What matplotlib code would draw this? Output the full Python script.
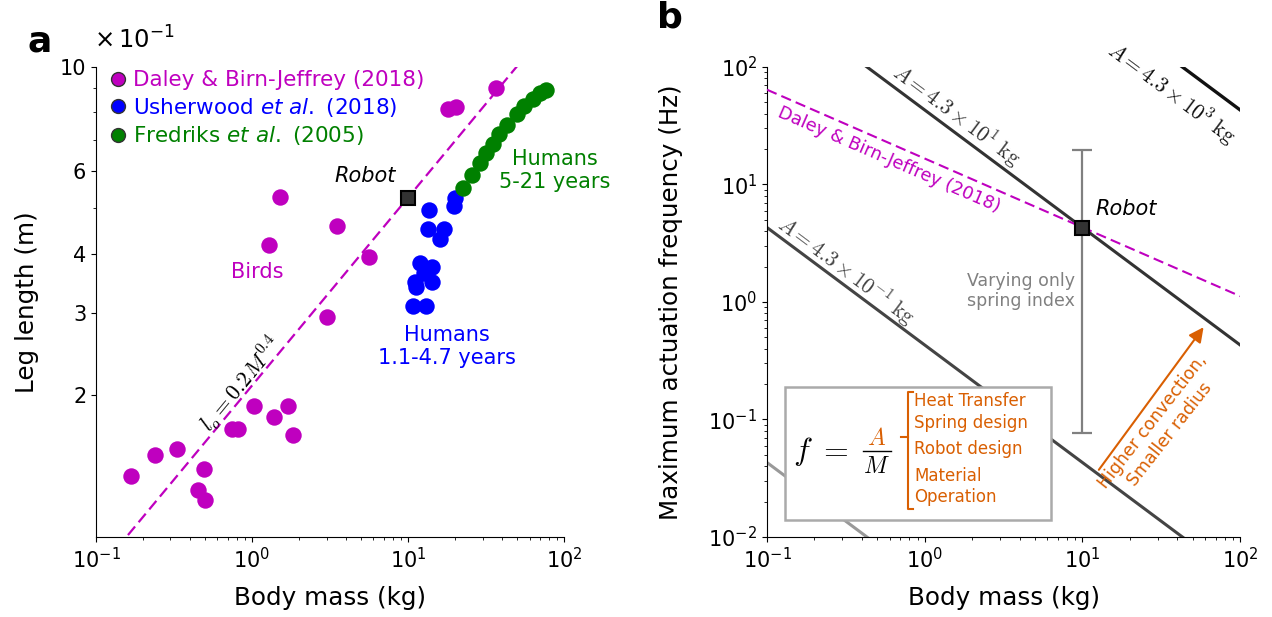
import numpy as np
import matplotlib.pyplot as plt
from matplotlib.lines import Line2D
from matplotlib.patches import Rectangle
from matplotlib.ticker import FixedLocator, FixedFormatter, NullFormatter

plt.rcParams['font.family'] = 'DejaVu Sans'
plt.rcParams['font.size'] = 14
plt.rcParams['axes.labelsize'] = 17.7
plt.rcParams['xtick.labelsize'] = 15
plt.rcParams['ytick.labelsize'] = 15

# ---- panel a data: body mass (kg) vs leg length (m) ----
bird_mass = [36.6, 18.0, 20.2, 1.50, 3.51, 1.29, 5.65, 3.03, 1.03, 1.71, 1.38, 1.82,
             0.741, 0.816, 0.329, 0.237, 0.167, 0.494, 0.453, 0.500]
bird_len = [0.902, 0.812, 0.822, 0.530, 0.458, 0.419, 0.394, 0.294, 0.1896, 0.1896, 0.1796, 0.1647,
            0.1697, 0.1697, 0.1535, 0.1496, 0.1345, 0.1396, 0.1257, 0.1197]

child_mass = [13.7, 20.0, 19.8, 13.5, 17.1, 16.0, 11.9, 14.3, 12.7, 11.0, 14.3, 11.2, 10.8, 13.0]
child_len = [0.496, 0.525, 0.506, 0.451, 0.451, 0.431, 0.383, 0.375, 0.364, 0.348, 0.348, 0.341, 0.310, 0.310]

youth_mass = [22.6, 25.6, 28.9, 31.6, 34.9, 38.5, 43.3, 49.8, 55.4, 63.0, 70.2, 76.7]
youth_len = [0.553, 0.590, 0.625, 0.657, 0.686, 0.719, 0.752, 0.793, 0.827, 0.855, 0.879, 0.893]

robot_mass = 10.0
robot_len = 0.526
fit_coef, fit_exp = 0.21, 0.4

# ---- panel b data ----
A_values = [4.3e3, 4.3e1, 4.3e-1, 4.3e-3]
A_labels = [r'$A = 4.3\times10^{3}\ \mathrm{kg}$', r'$A = 4.3\times10^{1}\ \mathrm{kg}$',
            r'$A = 4.3\times10^{-1}\ \mathrm{kg}$', None]
A_colors = ['#111111', '#333333', '#444444', '#999999']
daley_mass = [0.1, 100.0]
daley_freq = [64.0, 1.12]
robot_freq = 4.3
robot_freq_range = [0.077, 19.5]
factors = ['Heat Transfer', 'Spring design', 'Robot design', 'Material', 'Operation']

orange = '#d95f02'

fig = plt.figure(figsize=(12.72, 6.17), dpi=100)
ax1 = fig.add_axes([0.0755, 0.1297, 0.368, 0.7618])
ax2 = fig.add_axes([0.603, 0.1297, 0.372, 0.7618])

# ================= panel a =================
ax1.set_xscale('log')
ax1.set_yscale('log')
ax1.scatter(bird_mass, bird_len, s=140, c='m', lw=0, zorder=3)
ax1.scatter(child_mass, child_len, s=140, c='b', lw=0, zorder=3)
ax1.scatter(youth_mass, youth_len, s=140, c='g', lw=0, zorder=3)

mfit = np.array([0.1, 100.0])
ax1.plot(mfit, fit_coef * mfit ** fit_exp, '--', color='m', lw=1.6, dashes=(5, 2.5), zorder=2)
ax1.plot([robot_mass], [robot_len], 's', ms=10, mfc='#333333', mec='black', mew=1.5, zorder=5)

ax1.set_xlim(0.1, 100)
ax1.set_ylim(0.1, 1.0)
ax1.yaxis.set_major_locator(FixedLocator([0.2, 0.3, 0.4, 0.6, 1.0]))
ax1.yaxis.set_major_formatter(FixedFormatter(['2', '3', '4', '6', '10']))
ax1.yaxis.set_minor_locator(FixedLocator([0.5, 0.7, 0.8, 0.9]))
ax1.yaxis.set_minor_formatter(NullFormatter())
ax1.text(-0.005, 1.058, r'$\times\,10^{-1}$', transform=ax1.transAxes, fontsize=17.5,
         ha='left', va='center')
ax1.set_xlabel('Body mass (kg)', labelpad=10)
ax1.set_ylabel('Leg length (m)', labelpad=15)
for s in ['top', 'right']:
    ax1.spines[s].set_visible(False)

handles = [
    Line2D([], [], ls='', marker='o', ms=10, mfc='m', mec='#333333', mew=1,
           label='Daley & Birn-Jeffrey (2018)'),
    Line2D([], [], ls='', marker='o', ms=10, mfc='b', mec='#333333', mew=1,
           label=r'Usherwood $\it{et\ al.}$ (2018)'),
    Line2D([], [], ls='', marker='o', ms=10, mfc='g', mec='#333333', mew=1,
           label=r'Fredriks $\it{et\ al.}$ (2005)'),
]
leg = ax1.legend(handles=handles, loc='upper left', bbox_to_anchor=(0.0, 1.02),
                 frameon=False, handlelength=0.8, handletextpad=0.3, labelspacing=0.25,
                 borderaxespad=0.2, fontsize=15.5)
for t, c in zip(leg.get_texts(), ['m', 'b', 'g']):
    t.set_color(c)

ax1.text(8.3, 0.586, 'Robot', style='italic', ha='right', va='center', fontsize=15)
ax1.text(1.08, 0.367, 'Birds', color='m', ha='center', va='center', fontsize=15)
ax1.text(17.8, 0.254, 'Humans\n1.1-4.7 years', color='b', ha='center', va='center',
         fontsize=15)
ax1.text(87, 0.603, 'Humans\n5-21 years', color='g', ha='center', va='center', fontsize=15)
ax1.text(0.85, 0.212, r'$l_o = 0.2M^{0.4}$', rotation=50.5, rotation_mode='anchor',
         ha='center', va='center', fontsize=16, math_fontfamily='cm')

# ================= panel b =================
ax2.set_xscale('log')
ax2.set_yscale('log')
mline = np.array([0.1, 100.0])
for A, col in zip(A_values, A_colors):
    lw = 2.4 if A > 100 else 2.2
    ax2.plot(mline, A / mline, '-', color=col, lw=lw, zorder=2)

ax2.plot(daley_mass, daley_freq, '--', color='m', lw=1.5, dashes=(5, 2.5), zorder=3)
ax2.errorbar([robot_mass], [robot_freq],
             yerr=[[robot_freq - robot_freq_range[0]], [robot_freq_range[1] - robot_freq]],
             fmt='none', ecolor='grey', elinewidth=1.6, capsize=7, capthick=1.6, zorder=3)
ax2.plot([robot_mass], [robot_freq], 's', ms=10, mfc='#333333', mec='black', mew=1.5, zorder=6)

ax2.set_xlim(0.1, 100)
ax2.set_ylim(0.01, 100)
ax2.set_xlabel('Body mass (kg)', labelpad=10)
ax2.set_ylabel('Maximum actuation frequency (Hz)', labelpad=18)
for s in ['top', 'right']:
    ax2.spines[s].set_visible(False)

lab_pos = [(36.6, 60.1), (1.60, 39.0), (0.32, 1.87)]
for lab, pos, col in zip(A_labels, lab_pos, A_colors):
    ax2.text(pos[0], pos[1], lab, rotation=-36.8, rotation_mode='anchor', ha='center',
             va='center', fontsize=15.5, color=col, math_fontfamily='cm')

ax2.text(0.59, 16.2, 'Daley & Birn-Jeffrey (2018)', color='m', rotation=-23.5,
         rotation_mode='anchor', ha='center', va='center', fontsize=12.8)
ax2.text(9.0, 1.24, 'Varying only\nspring index', color='grey', ha='right', va='center',
         fontsize=12.5)
ax2.text(12.0, 6.2, 'Robot', style='italic', ha='left', va='center', fontsize=15)

ax2.annotate('', xy=(60.0, 0.637), xytext=(12.4, 0.0357),
             arrowprops=dict(arrowstyle='-|>', color=orange, lw=1.5, mutation_scale=22))
ax2.text(31.6, 0.0847, 'Higher convection,\nSmaller radius', color=orange, rotation=52,
         rotation_mode='anchor', ha='center', va='center', fontsize=12.5)

# equation box
ax2.add_patch(Rectangle((0.038, 0.036), 0.562, 0.284, transform=ax2.transAxes,
                        facecolor='white', edgecolor='#aaaaaa', lw=1.8, zorder=7))
ax2.text(0.054, 0.181, r'$f\ =$', transform=ax2.transAxes, ha='left', va='center',
         fontsize=23, math_fontfamily='cm', zorder=8)
ax2.text(0.232, 0.210, r'$A$', transform=ax2.transAxes, ha='center', va='center',
         fontsize=17, color=orange, math_fontfamily='cm', zorder=8)
ax2.text(0.232, 0.152, r'$M$', transform=ax2.transAxes, ha='center', va='center',
         fontsize=17, math_fontfamily='cm', zorder=8)
ax2.plot([0.202, 0.263], [0.183, 0.183], color='black', lw=1.0, transform=ax2.transAxes,
         zorder=8, clip_on=False)
ax2.plot([0.308, 0.297, 0.297, 0.308], [0.309, 0.309, 0.059, 0.059], color=orange, lw=1.5,
         transform=ax2.transAxes, zorder=8, clip_on=False)
ax2.plot([0.283, 0.297], [0.213, 0.213], color=orange, lw=1.5, transform=ax2.transAxes,
         zorder=8, clip_on=False)
for txt, yy in zip(factors, [0.289, 0.242, 0.187, 0.130, 0.084]):
    ax2.text(0.311, yy, txt, transform=ax2.transAxes, ha='left', va='center',
             fontsize=12, color=orange, zorder=8)

fig.text(0.031, 0.932, 'a', fontsize=26, fontweight='bold', ha='center', va='center')
fig.text(0.527, 0.972, 'b', fontsize=26, fontweight='bold', ha='center', va='center')

fig.savefig('out.png', dpi=100)
